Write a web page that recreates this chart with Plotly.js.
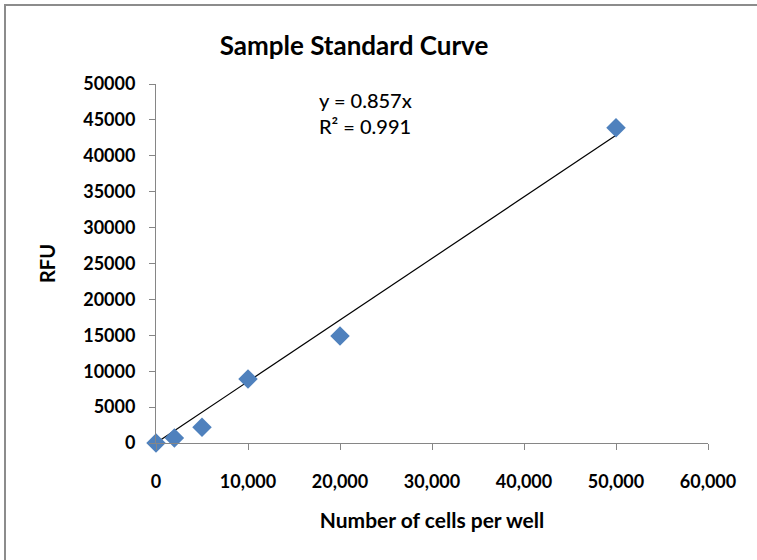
<!DOCTYPE html>
<html>
<head>
<meta charset="utf-8">
<script src="https://cdn.plot.ly/plotly-3.0.1.min.js"></script>
<style>
html,body{margin:0;padding:0;background:#fff;}
#chart{width:757px;height:560px;position:relative;}
#frame{position:absolute;left:4px;top:4px;width:760px;height:600px;border-left:2px solid #8c8c8c;border-top:2px solid #8c8c8c;pointer-events:none;}
</style>
</head>
<body>
<div id="chart"></div>
<div id="frame"></div>
<script>
const cellsPerWell = [0, 2000, 5000, 10000, 20000, 50000];
const rfu = [0, 700, 2200, 8900, 14900, 43900];
const slope = 0.857;
const rSquared = 0.991;
const xTicks = [0, 10000, 20000, 30000, 40000, 50000, 60000];
const xTickLabels = ['0', '10,000', '20,000', '30,000', '40,000', '50,000', '60,000'];
const yTicks = [0, 5000, 10000, 15000, 20000, 25000, 30000, 35000, 40000, 45000, 50000];
const yTickLabels = ['0', '5000', '10000', '15000', '20000', '25000', '30000', '35000', '40000', '45000', '50000'];

const trendX = [0, Math.max(...cellsPerWell)];
const trendY = trendX.map(v => slope * v);

const font = 'Lato, "Open Sans", sans-serif';

const traces = [
  {
    x: trendX, y: trendY, mode: 'lines', type: 'scatter',
    line: {color: '#000000', width: 1.2}, hoverinfo: 'skip', showlegend: false,
    cliponaxis: false
  },
  {
    x: cellsPerWell, y: rfu, mode: 'markers', type: 'scatter',
    marker: {symbol: 'diamond', size: 15, color: '#4F81BD', line: {width: 0}},
    showlegend: false, cliponaxis: false
  }
];

const layout = {
  width: 757, height: 560,
  margin: {l: 156, r: 49, t: 84, b: 117},
  paper_bgcolor: '#ffffff', plot_bgcolor: '#ffffff',
  showlegend: false,
  title: {
    text: '<b>Sample Standard Curve</b>',
    font: {family: font, size: 26, color: '#000'},
    xref: 'container', yref: 'container',
    x: 354 / 757, xanchor: 'center',
    y: 1 - 46 / 560, yanchor: 'middle'
  },
  xaxis: {
    range: [0, 60000], tickvals: xTicks, ticktext: xTickLabels,
    showgrid: false, zeroline: false,
    showline: true, linecolor: '#868686', linewidth: 1,
    ticks: 'outside', ticklen: 6, tickcolor: '#868686',
    ticklabelstandoff: 16,
    tickfont: {family: font, size: 18, color: '#000', weight: 'bold'},
    title: {text: '<b>Number of cells per well</b>', font: {family: font, size: 21, color: '#000'}, standoff: 22}
  },
  yaxis: {
    range: [0, 50000], tickvals: yTicks, ticktext: yTickLabels,
    showgrid: false, zeroline: false,
    showline: true, linecolor: '#868686', linewidth: 1,
    ticks: 'outside', ticklen: 6, tickcolor: '#868686',
    ticklabelstandoff: 10,
    tickfont: {family: font, size: 18, color: '#000', weight: 'bold'},
    title: {text: '<b>RFU</b>', font: {family: font, size: 20, color: '#000'}, standoff: 22}
  },
  annotations: [{
    xref: 'paper', yref: 'paper',
    x: (365 - 156) / 552, y: 1 - (113 - 84) / 359,
    xanchor: 'center', yanchor: 'middle',
    text: 'y = ' + slope + 'x<br>R² = ' + rSquared,
    showarrow: false, align: 'left',
    font: {family: font, size: 20, color: '#000', weight: 500}
  }]
};

Plotly.newPlot('chart', traces, layout, {displayModeBar: false, staticPlot: true});
</script>
</body>
</html>
